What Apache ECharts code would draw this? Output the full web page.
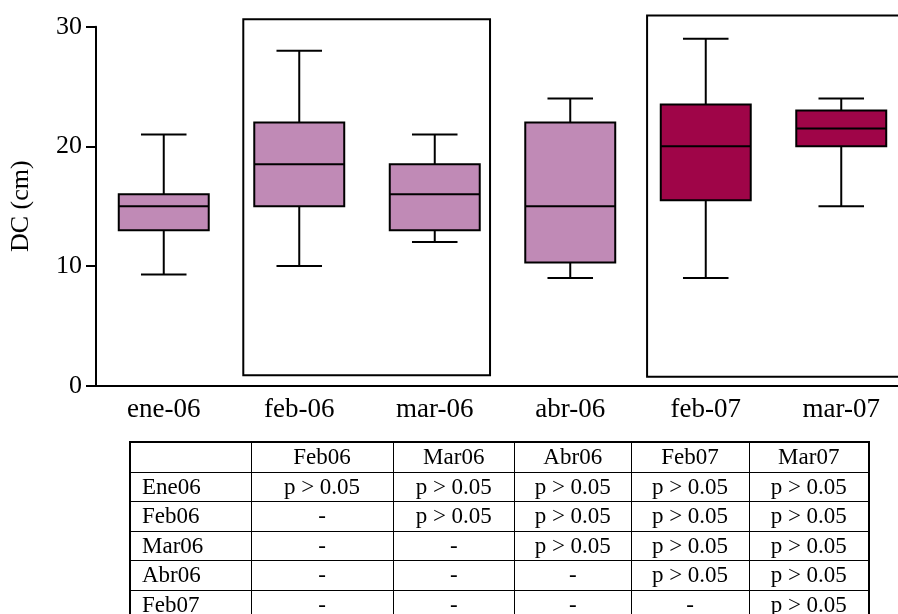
<!DOCTYPE html>
<html>
<head>
<meta charset="utf-8">
<script src="https://cdn.jsdelivr.net/npm/echarts@6/dist/echarts.min.js"></script>
<style>
  html, body { margin: 0; padding: 0; background: #fff; }
  #wrap { position: relative; width: 898px; height: 614px; overflow: hidden; }
  #chart { position: absolute; left: 0; top: 0; width: 920px; height: 614px; }
  #tbl {
    position: absolute; left: 129px; top: 441px;
    border-collapse: collapse; table-layout: fixed;
    font-family: "Liberation Serif", "Times New Roman", serif; font-size: 23px; color: #000;
    border: 2px solid #000;
  }
  #tbl td { border: 1px solid #000; height: 28.5px; padding: 0; text-align: center; line-height: 28px; white-space: nowrap; }
  #tbl td.rowh { text-align: left; padding-left: 11px; }
</style>
</head>
<body>
<div id="wrap">
  <div id="chart"></div>
  <table id="tbl"></table>
</div>
<script>
// ---- data ----
var categories = ['ene-06', 'feb-06', 'mar-06', 'abr-06', 'feb-07', 'mar-07'];
var whiskerLow  = [9.3, 10, 12, 9, 9, 15];
var q1          = [13, 15, 13, 10.3, 15.5, 20];
var median      = [15, 18.5, 16, 15, 20, 21.5];
var q3          = [16, 22, 18.5, 22, 23.5, 23];
var whiskerHigh = [21, 28, 21, 24, 29, 24];
var season      = ['06', '06', '06', '06', '07', '07'];
var yTicks      = [0, 10, 20, 30];
var frameGroups = [['feb-06', 'mar-06'], ['feb-07', 'mar-07']];

var tableCols = ['', 'Feb06', 'Mar06', 'Abr06', 'Feb07', 'Mar07'];
var tableRows = ['Ene06', 'Feb06', 'Mar06', 'Abr06', 'Feb07'];
var tableCells = [
  ['p > 0.05', 'p > 0.05', 'p > 0.05', 'p > 0.05', 'p > 0.05'],
  ['-', 'p > 0.05', 'p > 0.05', 'p > 0.05', 'p > 0.05'],
  ['-', '-', 'p > 0.05', 'p > 0.05', 'p > 0.05'],
  ['-', '-', '-', 'p > 0.05', 'p > 0.05'],
  ['-', '-', '-', '-', 'p > 0.05']
];

// ---- styles ----
var FONT = '"Liberation Serif", "Times New Roman", serif';
var fillBySeason = { '06': '#C08AB6', '07': '#9F0548' };
var frameStyle = [
  { left: 0.413, right: 0.408, bottom: 0.87, top: 30.63 },
  { left: 0.433, right: 0.5, bottom: 0.75, top: 30.94 }
];
var colWidths = [121, 142, 121.5, 116.5, 118, 120];

// ---- table ----
(function () {
  var t = document.getElementById('tbl');
  var html = '<colgroup>' + colWidths.map(function (w) { return '<col style="width:' + w + 'px">'; }).join('') + '</colgroup>';
  html += '<tr>' + tableCols.map(function (c) { return '<td>' + c + '</td>'; }).join('') + '</tr>';
  tableRows.forEach(function (r, i) {
    html += '<tr><td class="rowh">' + r + '</td>' +
      tableCells[i].map(function (c) { return '<td>' + c.replace('>', '&gt;') + '</td>'; }).join('') + '</tr>';
  });
  t.innerHTML = html;
})();

// ---- chart ----
var boxData = categories.map(function (c, i) {
  return [i, whiskerLow[i], q1[i], median[i], q3[i], whiskerHigh[i], season[i]];
});
var frameData = frameGroups.map(function (g, k) {
  return [categories.indexOf(g[0]), categories.indexOf(g[1]), k];
});

function renderBox(params, api) {
  var idx = api.value(0);
  var bw = api.size([1, 0])[0];
  var half = bw * 0.332;
  var capHalf = bw * 0.168;
  var pLow = api.coord([idx, api.value(1)]);
  var pQ1 = api.coord([idx, api.value(2)]);
  var pMed = api.coord([idx, api.value(3)]);
  var pQ3 = api.coord([idx, api.value(4)]);
  var pHigh = api.coord([idx, api.value(5)]);
  var x = pQ1[0];
  var fill = fillBySeason[boxData[params.dataIndex][6]];
  var ls = { stroke: '#000', lineWidth: 2 };
  return {
    type: 'group',
    children: [
      { type: 'line', shape: { x1: x, y1: pHigh[1], x2: x, y2: pQ3[1] }, style: ls },
      { type: 'line', shape: { x1: x, y1: pQ1[1], x2: x, y2: pLow[1] }, style: ls },
      { type: 'line', shape: { x1: x - capHalf, y1: pHigh[1], x2: x + capHalf, y2: pHigh[1] }, style: ls },
      { type: 'line', shape: { x1: x - capHalf, y1: pLow[1], x2: x + capHalf, y2: pLow[1] }, style: ls },
      { type: 'rect', shape: { x: x - half, y: pQ3[1], width: half * 2, height: pQ1[1] - pQ3[1] },
        style: { fill: fill, stroke: '#000', lineWidth: 2 } },
      { type: 'line', shape: { x1: x - half, y1: pMed[1], x2: x + half, y2: pMed[1] }, style: ls }
    ]
  };
}

function renderFrame(params, api) {
  var k = api.value(2);
  var st = frameStyle[k];
  var bw = api.size([1, 0])[0];
  var a = api.coord([api.value(0), st.top]);
  var b = api.coord([api.value(1), st.bottom]);
  var x1 = a[0] - st.left * bw;
  var x2 = b[0] + st.right * bw;
  return {
    type: 'rect',
    shape: { x: x1, y: a[1], width: x2 - x1, height: b[1] - a[1] },
    style: { fill: 'none', stroke: '#000', lineWidth: 2 }
  };
}

var chart = echarts.init(document.getElementById('chart'));
chart.setOption({
  animation: false,
  backgroundColor: '#fff',
  grid: { left: 96, right: 11, top: 26.7, bottom: 228.3, containLabel: false },
  xAxis: {
    type: 'category',
    data: categories,
    boundaryGap: true,
    axisLine: { lineStyle: { color: '#000', width: 2 } },
    axisTick: { show: false },
    axisLabel: { color: '#000', fontFamily: FONT, fontSize: 27, margin: 11 },
    splitLine: { show: false }
  },
  yAxis: {
    type: 'value',
    min: yTicks[0], max: yTicks[yTicks.length - 1], interval: 10,
    name: 'DC (cm)',
    nameLocation: 'middle',
    nameGap: 62,
    nameTextStyle: { color: '#000', fontFamily: FONT, fontSize: 26 },
    axisLine: { show: true, lineStyle: { color: '#000', width: 2 } },
    axisTick: { show: true, length: 10, lineStyle: { color: '#000', width: 2 } },
    axisLabel: { color: '#000', fontFamily: FONT, fontSize: 26, margin: 14 },
    splitLine: { show: false }
  },
  series: [
    {
      type: 'custom',
      name: 'frames',
      clip: false,
      renderItem: renderFrame,
      data: frameData,
      encode: { x: 0, y: -1 },
      silent: true,
      z: 1
    },
    {
      type: 'custom',
      name: 'DC',
      clip: false,
      renderItem: renderBox,
      data: boxData,
      encode: { x: 0, y: [1, 2, 3, 4, 5] },
      z: 2
    }
  ]
});
</script>
</body>
</html>
